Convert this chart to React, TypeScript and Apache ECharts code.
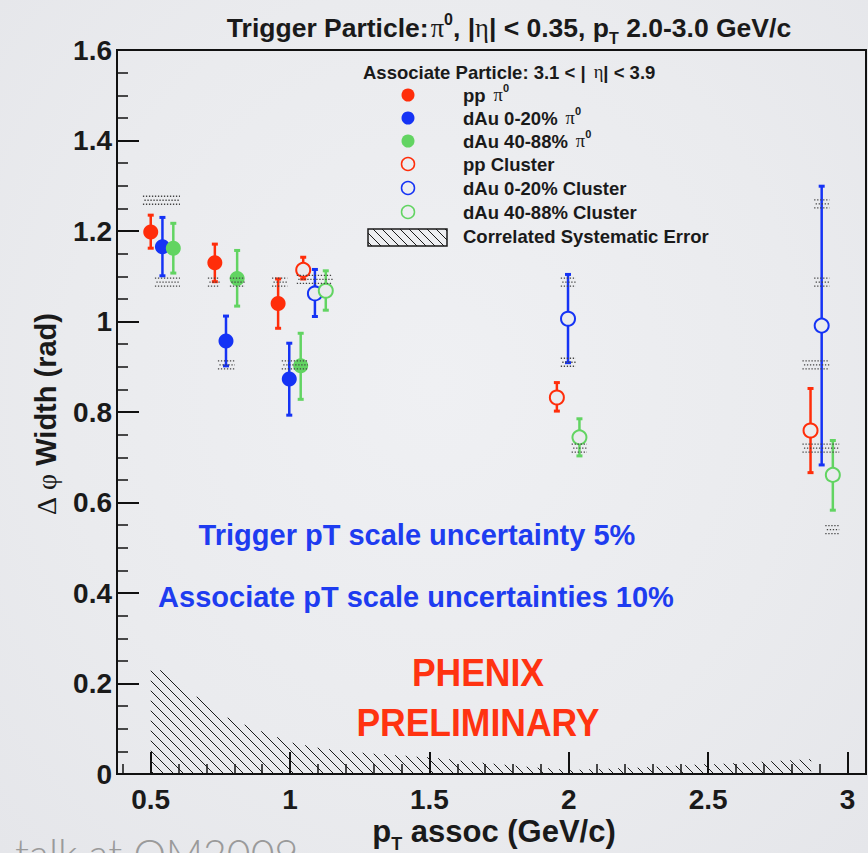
import React, { useEffect, useRef } from 'react';
import * as echarts from 'echarts';

const W = 868;
const H = 853;

const SANS = '"Liberation Sans", Arial, Helvetica, sans-serif';
const SERIF = '"Liberation Serif", "DejaVu Serif", serif';
const INK = '#1a1a1a';
const BG = '#eaebee';
const RED = '#ff2d0a';
const BLUE = '#1533f5';
const GREEN = '#62d462';
const TXT_BLUE = '#1e3cf0';
const TXT_RED = '#ff3311';

// axis ranges and ticks
const X_MIN = 0.379;
const X_MAX = 3.066;
const xMajor = [0.5, 1, 1.5, 2, 2.5, 3];
const xMinor = [0.4, 0.6, 0.7, 0.8, 0.9, 1.1, 1.2, 1.3, 1.4, 1.6, 1.7, 1.8, 1.9, 2.1, 2.2, 2.3, 2.4, 2.6, 2.7, 2.8, 2.9];

// pp pi0
const ppPi0X = [0.5, 0.73, 0.957];
const ppPi0Y = [1.198, 1.13, 1.04];
const ppPi0Lo = [1.162, 1.088, 0.985];
const ppPi0Hi = [1.235, 1.171, 1.094];
// dAu 0-20% pi0
const dAuCentPi0X = [0.542, 0.77, 0.997];
const dAuCentPi0Y = [1.165, 0.957, 0.873];
const dAuCentPi0Lo = [1.101, 0.902, 0.793];
const dAuCentPi0Hi = [1.23, 1.012, 0.952];
// dAu 40-88% pi0
const dAuPeriPi0X = [0.581, 0.81, 1.038];
const dAuPeriPi0Y = [1.162, 1.095, 0.902];
const dAuPeriPi0Lo = [1.107, 1.034, 0.828];
const dAuPeriPi0Hi = [1.217, 1.157, 0.974];
// pp cluster
const ppClX = [1.047, 1.957, 2.867];
const ppClY = [1.114, 0.832, 0.759];
const ppClLo = [1.094, 0.802, 0.666];
const ppClHi = [1.142, 0.865, 0.852];
// dAu 0-20% cluster
const dAuCentClX = [1.089, 1.997, 2.907];
const dAuCentClY = [1.062, 1.006, 0.991];
const dAuCentClLo = [1.011, 0.909, 0.683];
const dAuCentClHi = [1.115, 1.104, 1.299];
// dAu 40-88% cluster
const dAuPeriClX = [1.128, 2.038, 2.947];
const dAuPeriClY = [1.068, 0.744, 0.661];
const dAuPeriClLo = [1.025, 0.703, 0.583];
const dAuPeriClHi = [1.112, 0.785, 0.737];

// point-to-point systematic boxes: x from, x to, level
const sysX0 = [0.472, 0.515, 0.705, 0.784, 0.741, 0.935, 0.97, 1.024, 1.971, 1.971, 2.01, 2.88, 2.88, 2.838, 2.838, 2.92];
const sysX1 = [0.605, 0.605, 0.748, 0.838, 0.802, 0.99, 1.064, 1.153, 2.025, 2.025, 2.065, 2.935, 2.935, 2.935, 2.97, 2.97];
const sysY = [1.268, 1.087, 1.087, 1.087, 0.904, 1.087, 0.904, 1.093, 1.087, 0.91, 0.72, 1.26, 1.087, 0.904, 0.72, 0.54];

// correlated systematic error envelope
const corrX = [0.5, 0.63, 0.77, 0.88, 1.0, 1.1, 1.25, 1.5, 1.75, 2.0, 2.25, 2.5, 2.75, 2.87];
const corrY = [0.245, 0.186, 0.126, 0.099, 0.071, 0.058, 0.048, 0.037, 0.022, 0.009, 0.015, 0.022, 0.03, 0.034];

type Run = { t: string; size: number; bold?: boolean; serif?: boolean; dy?: number; dx?: number };

let measureCtx: CanvasRenderingContext2D | null = null;
function textWidth(font: string, s: string): number {
  if (!measureCtx) measureCtx = document.createElement('canvas').getContext('2d');
  if (!measureCtx) return s.length * 10;
  measureCtx.font = font;
  return measureCtx.measureText(s).width;
}

function runsToTexts(runs: Run[], x: number, y: number, align: 'left' | 'center', fill: string): any[] {
  const fam = (r: Run) => (r.serif ? SERIF : SANS);
  const weight = (r: Run) => (r.bold === false || r.serif ? 'normal' : 'bold');
  const widths = runs.map((r) => textWidth(`${weight(r)} ${r.size}px ${fam(r)}`, r.t) + (r.dx || 0));
  const total = widths.reduce((a, b) => a + b, 0);
  let cx = align === 'center' ? x - total / 2 : x;
  return runs.map((r, i) => {
    const el = {
      type: 'text',
      x: cx + (r.dx || 0),
      y: y + (r.dy || 0),
      silent: true,
      style: {
        text: r.t,
        fontSize: r.size,
        fontWeight: weight(r),
        fontFamily: fam(r),
        fill,
        align: 'left',
        verticalAlign: 'middle',
      },
    };
    cx += widths[i];
    return el;
  });
}

// 45-degree "\" hatch lines below a top boundary
function hatchSegments(left: number, right: number, bottom: number, topAt: (px: number) => number, step: number): number[][] {
  const segs: number[][] = [];
  let minTop = Infinity;
  for (let px = left; px <= right; px += 1) minTop = Math.min(minTop, topAt(px));
  const cMin = left - bottom;
  const cMax = right - minTop;
  for (let c = Math.ceil(cMin / step) * step; c <= cMax; c += step) {
    let first: number | null = null;
    let last: number | null = null;
    for (let px = left; px <= right; px += 0.5) {
      const py = px - c;
      if (py >= topAt(px) && py <= bottom) {
        if (first === null) first = px;
        last = px;
      }
    }
    if (first !== null && last !== null && last > first) segs.push([first, first - c, last, last - c]);
  }
  return segs;
}

function errorSeries(xs: number[], lo: number[], hi: number[], color: string) {
  return {
    type: 'custom',
    coordinateSystem: 'cartesian2d',
    xAxisIndex: 0,
    yAxisIndex: 0,
    z: 2,
    silent: true,
    data: xs.map((x, i) => [x, lo[i], hi[i]]),
    encode: { x: 0, y: [1, 2] },
    renderItem: (_p: any, api: any) => {
      const x = api.value(0);
      const a = api.coord([x, api.value(1)]);
      const b = api.coord([x, api.value(2)]);
      return {
        type: 'group',
        children: [
          { type: 'line', shape: { x1: a[0], y1: a[1], x2: b[0], y2: b[1] }, style: { stroke: color, lineWidth: 2.5 } },
          { type: 'line', shape: { x1: a[0] - 3, y1: a[1], x2: a[0] + 3, y2: a[1] }, style: { stroke: color, lineWidth: 3 } },
          { type: 'line', shape: { x1: b[0] - 3, y1: b[1], x2: b[0] + 3, y2: b[1] }, style: { stroke: color, lineWidth: 3 } },
        ],
      };
    },
  };
}

function markerSeries(name: string, xs: number[], ys: number[], color: string, open: boolean) {
  return {
    type: 'scatter',
    name,
    z: 3,
    silent: true,
    symbol: 'circle',
    symbolSize: open ? 14 : 15,
    data: xs.map((x, i) => [x, ys[i]]),
    itemStyle: open ? { color: BG, borderColor: color, borderWidth: 2, opacity: 1 } : { color, opacity: 1 },
  };
}

function buildGraphic(): any[] {
  const g: any[] = [];

  // title
  g.push(
    ...runsToTexts(
      [
        { t: 'Trigger Particle:', size: 26.5 },
        { t: 'π', size: 26.5, serif: true, dx: 2 },
        { t: '0', size: 16, dy: -9 },
        { t: ', |', size: 26.5 },
        { t: 'η', size: 26.5, serif: true },
        { t: '| < 0.35, p', size: 26.5 },
        { t: 'T', size: 16, dy: 10 },
        { t: ' 2.0-3.0 GeV/c', size: 26.5 },
      ],
      509,
      28,
      'center',
      INK
    )
  );

  // legend header
  g.push(
    ...runsToTexts(
      [
        { t: 'Associate Particle: 3.1 < |', size: 18.5 },
        { t: 'η', size: 18.5, serif: true, dx: 8 },
        { t: '| < 3.9', size: 18.5 },
      ],
      363,
      72,
      'left',
      INK
    )
  );

  const rowsY = [95, 118, 141, 164, 188, 212, 236];
  const legendRows: { runs: Run[]; color: string; open: boolean }[] = [
    { runs: [{ t: 'pp', size: 18.5 }, { t: 'π', size: 18.5, serif: true, dx: 8 }, { t: '0', size: 11, dy: -7 }], color: RED, open: false },
    { runs: [{ t: 'dAu 0-20%', size: 18.5 }, { t: 'π', size: 18.5, serif: true, dx: 8 }, { t: '0', size: 11, dy: -7 }], color: BLUE, open: false },
    { runs: [{ t: 'dAu 40-88%', size: 18.5 }, { t: 'π', size: 18.5, serif: true, dx: 8 }, { t: '0', size: 11, dy: -7 }], color: GREEN, open: false },
    { runs: [{ t: 'pp Cluster', size: 18.5 }], color: RED, open: true },
    { runs: [{ t: 'dAu 0-20% Cluster', size: 18.5 }], color: BLUE, open: true },
    { runs: [{ t: 'dAu 40-88% Cluster', size: 18.5 }], color: GREEN, open: true },
  ];
  legendRows.forEach((row, i) => {
    const y = rowsY[i];
    g.push({
      type: 'circle',
      silent: true,
      shape: { cx: 408, cy: y, r: 6.5 },
      style: row.open ? { fill: 'none', stroke: row.color, lineWidth: 1.5 } : { fill: row.color },
    });
    g.push(...runsToTexts(row.runs, 463, y, 'left', INK));
  });
  // hatched legend box
  const bx0 = 368, bx1 = 447, by0 = 229, by1 = 246;
  hatchSegments(bx0, bx1, by1, () => by0, 9).forEach((s) => {
    g.push({ type: 'line', silent: true, shape: { x1: s[0], y1: s[1], x2: s[2], y2: s[3] }, style: { stroke: INK, lineWidth: 1 } });
  });
  g.push({ type: 'rect', silent: true, shape: { x: bx0, y: by0, width: bx1 - bx0, height: by1 - by0 }, style: { fill: 'none', stroke: INK, lineWidth: 1.5 } });
  g.push(...runsToTexts([{ t: 'Correlated Systematic Error', size: 18.5 }], 463, rowsY[6], 'left', INK));

  // blue annotations
  g.push(...runsToTexts([{ t: 'Trigger pT scale uncertainty 5%', size: 29 }], 417, 535, 'center', TXT_BLUE));
  g.push(...runsToTexts([{ t: 'Associate pT scale uncertainties 10%', size: 29 }], 416, 597, 'center', TXT_BLUE));

  // preliminary stamp
  ['PHENIX', 'PRELIMINARY'].forEach((t, i) => {
    g.push({
      type: 'group',
      x: 478,
      y: i === 0 ? 672 : 722,
      scaleX: 0.91,
      silent: true,
      children: runsToTexts([{ t, size: 39 }], 0, 0, 'center', TXT_RED),
    });
  });

  // axis titles
  g.push(
    ...runsToTexts(
      [
        { t: 'p', size: 31 },
        { t: 'T', size: 18, dy: 13 },
        { t: ' assoc (GeV/c)', size: 31 },
      ],
      494,
      831,
      'center',
      INK
    )
  );
  g.push({
    type: 'group',
    x: 46,
    y: 414,
    rotation: Math.PI / 2,
    silent: true,
    children: runsToTexts(
      [
        { t: 'Δ', size: 28, serif: true },
        { t: 'φ', size: 28, serif: true, dx: 7 },
        { t: ' Width (rad)', size: 29 },
      ],
      0,
      0,
      'center',
      INK
    ),
  });

  // footer
  g.push({
    type: 'text',
    x: 15,
    y: 853,
    silent: true,
    style: { text: 'talk at QM2009', fontSize: 41, fontWeight: 300, fontFamily: 'Lato, "Open Sans", sans-serif', fill: '#9a9a9a', align: 'left', verticalAlign: 'middle' },
  });

  return g;
}

export default function App() {
  const ref = useRef<HTMLDivElement>(null);

  useEffect(() => {
    if (!ref.current) return;
    const chart = echarts.init(ref.current, undefined, { renderer: 'svg', width: W, height: H });

    const hatchSeries = {
      type: 'custom',
      coordinateSystem: 'cartesian2d',
      xAxisIndex: 0,
      yAxisIndex: 0,
      z: 1,
      silent: true,
      data: [[corrX[0], corrY[0]]],
      renderItem: (_p: any, api: any) => {
        const pts = corrX.map((x, i) => api.coord([x, corrY[i]]));
        const base = api.coord([corrX[0], 0])[1];
        const topAt = (px: number) => {
          for (let i = 0; i < pts.length - 1; i++) {
            if (px >= pts[i][0] && px <= pts[i + 1][0]) {
              const t = (px - pts[i][0]) / (pts[i + 1][0] - pts[i][0]);
              return pts[i][1] + t * (pts[i + 1][1] - pts[i][1]);
            }
          }
          return Infinity;
        };
        const segs = hatchSegments(pts[0][0], pts[pts.length - 1][0], base, topAt, 10);
        return {
          type: 'group',
          children: segs.map((s) => ({
            type: 'line',
            shape: { x1: s[0], y1: s[1], x2: s[2], y2: s[3] },
            style: { stroke: INK, lineWidth: 1 },
          })),
        };
      },
    };

    const sysSeries = {
      type: 'custom',
      coordinateSystem: 'cartesian2d',
      xAxisIndex: 0,
      yAxisIndex: 0,
      z: 4,
      silent: true,
      data: sysY.map((y, i) => [sysX0[i], sysX1[i], y]),
      encode: { x: [0, 1], y: 2 },
      renderItem: (_p: any, api: any) => {
        const a = api.coord([api.value(0), api.value(2)]);
        const b = api.coord([api.value(1), api.value(2)]);
        const rows = [-4, 0, 4];
        return {
          type: 'group',
          children: rows.map((d, k) => ({
            type: 'line',
            shape: { x1: a[0] + (k % 2) * 1.5, y1: a[1] + d, x2: b[0], y2: b[1] + d },
            style: { stroke: '#444', lineWidth: 1.3, lineDash: [1.3, 1.7] },
          })),
        };
      },
    };

    const option: any = {
      animation: false,
      backgroundColor: 'transparent',
      grid: { left: 117, right: 2, top: 50, bottom: 79, show: true, borderColor: '#111', borderWidth: 2, backgroundColor: 'transparent' },
      xAxis: [
        {
          type: 'value',
          min: X_MIN,
          max: X_MAX,
          position: 'bottom',
          axisLine: { show: true, onZero: false, lineStyle: { color: '#111', width: 2 } },
          axisTick: { show: true, inside: true, length: 22, customValues: xMajor, lineStyle: { color: '#111', width: 2 } },
          axisLabel: { customValues: xMajor, margin: 11, fontSize: 28, fontWeight: 'bold', fontFamily: SANS, color: INK },
          splitLine: { show: false },
        },
        {
          type: 'value',
          min: X_MIN,
          max: X_MAX,
          position: 'bottom',
          axisLine: { show: false, onZero: false },
          axisTick: { show: true, inside: true, length: 10, customValues: xMinor, lineStyle: { color: '#111', width: 1.5 } },
          axisLabel: { show: false },
          splitLine: { show: false },
        },
      ],
      yAxis: {
        type: 'value',
        min: 0,
        max: 1.6,
        interval: 0.2,
        axisLine: { show: true, onZero: false, lineStyle: { color: '#111', width: 2 } },
        axisTick: { show: true, inside: true, length: 22, lineStyle: { color: '#111', width: 2 } },
        minorTick: { show: true, splitNumber: 4, length: 11, lineStyle: { color: '#111', width: 1.5 } },
        axisLabel: { margin: 5, fontSize: 28, fontWeight: 'bold', fontFamily: SANS, color: INK },
        splitLine: { show: false },
        minorSplitLine: { show: false },
      },
      series: [
        hatchSeries,
        errorSeries(ppPi0X, ppPi0Lo, ppPi0Hi, RED),
        errorSeries(dAuCentPi0X, dAuCentPi0Lo, dAuCentPi0Hi, BLUE),
        errorSeries(dAuPeriPi0X, dAuPeriPi0Lo, dAuPeriPi0Hi, GREEN),
        errorSeries(ppClX, ppClLo, ppClHi, RED),
        errorSeries(dAuCentClX, dAuCentClLo, dAuCentClHi, BLUE),
        errorSeries(dAuPeriClX, dAuPeriClLo, dAuPeriClHi, GREEN),
        markerSeries('pp π0', ppPi0X, ppPi0Y, RED, false),
        markerSeries('dAu 0-20% π0', dAuCentPi0X, dAuCentPi0Y, BLUE, false),
        markerSeries('dAu 40-88% π0', dAuPeriPi0X, dAuPeriPi0Y, GREEN, false),
        markerSeries('pp Cluster', ppClX, ppClY, RED, true),
        markerSeries('dAu 0-20% Cluster', dAuCentClX, dAuCentClY, BLUE, true),
        markerSeries('dAu 40-88% Cluster', dAuPeriClX, dAuPeriClY, GREEN, true),
        sysSeries,
      ],
      graphic: buildGraphic(),
    };

    chart.setOption(option);
    return () => chart.dispose();
  }, []);

  return (
    <div
      style={{
        position: 'absolute',
        left: 0,
        top: 0,
        width: W,
        height: H,
        overflow: 'hidden',
        background: 'radial-gradient(ellipse at 50% 45%, #eff0f3 0%, #eaebee 60%, #e5e6ea 100%)',
      }}
    >
      <div ref={ref} style={{ width: W, height: H }} />
    </div>
  );
}
